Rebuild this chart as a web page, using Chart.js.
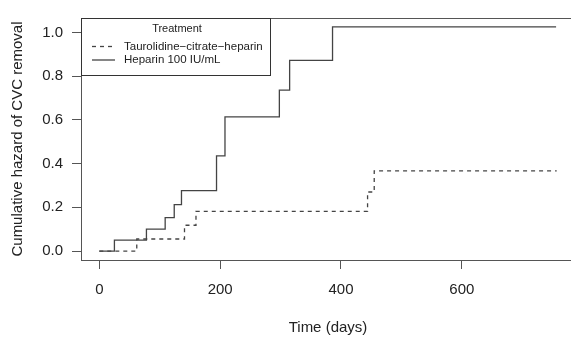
<!DOCTYPE html>
<html>
<head>
<meta charset="utf-8">
<script src="https://cdn.jsdelivr.net/npm/chart.js@4.4.1/dist/chart.umd.min.js"></script>
<style>
  html, body { margin: 0; padding: 0; background: #fff; overflow: hidden; }
  canvas { display: block; }
</style>
</head>
<body>
<canvas id="hazardChart" width="580" height="339"></canvas>
<script>
// cumulative hazard step points
const heparinTimes = [0, 25, 78, 109, 124, 136, 194, 208, 298, 315, 386, 756];
const heparinHazard = [0, 0.05, 0.10, 0.153, 0.212, 0.276, 0.435, 0.614, 0.736, 0.872, 1.025, 1.025];
const taurolidineTimes = [0, 62, 141, 160, 444, 455, 757];
const taurolidineHazard = [0, 0.055, 0.118, 0.181, 0.27, 0.367, 0.367];

const xTicks = [0, 200, 400, 600];
const yTicks = [0, 0.2, 0.4, 0.6, 0.8, 1.0];
const seriesLabels = ['Taurolidine\u2212citrate\u2212heparin', 'Heparin 100 IU/mL'];

const toPoints = (xs, ys) => xs.map((x, i) => ({ x: x, y: ys[i] }));

const lineColor = '#444';
const axisColor = '#555';
const textColor = '#222';
const font = 'Liberation Sans, Arial, Helvetica, sans-serif';

// box around plot + R-style legend in the top-left corner
const boxAndLegend = {
    id: 'boxAndLegend',
    afterDraw(chart) {
        const c = chart.ctx;
        const a = chart.chartArea;
        c.save();
        c.strokeStyle = axisColor;
        c.lineWidth = 1;
        c.strokeRect(a.left + 0.5, a.top + 0.5, a.right - a.left, a.bottom - a.top);

        const lx = a.left, ly = a.top + 0.5, lw = 189, lh = 57;
        c.fillStyle = '#fff';
        c.fillRect(lx + 0.5, ly, lw, lh);
        c.strokeStyle = '#333';
        c.strokeRect(lx + 0.5, ly, lw, lh);

        c.fillStyle = textColor;
        c.font = '11px ' + font;
        c.textAlign = 'center';
        c.textBaseline = 'middle';
        c.fillText('Treatment', lx + 96, ly + 10);

        c.textAlign = 'left';
        c.font = '11.5px ' + font;
        chart.data.datasets.forEach((ds, i) => {
            const y = ly + 28 + i * 13.5;
            c.strokeStyle = lineColor;
            c.lineWidth = 1.3;
            c.setLineDash(ds.borderDash || []);
            c.beginPath();
            c.moveTo(lx + 11, y);
            c.lineTo(lx + 34, y);
            c.stroke();
            c.setLineDash([]);
            c.fillText(ds.label, lx + 43, y);
        });
        c.restore();
    }
};

const ctx = document.getElementById('hazardChart').getContext('2d');
const hazardChart = new Chart(ctx, {
    type: 'line',
    data: {
        datasets: [
            {
                label: seriesLabels[0],
                data: toPoints(taurolidineTimes, taurolidineHazard),
                borderColor: lineColor,
                borderWidth: 1.3,
                borderDash: [4, 4],
                stepped: 'before',
                pointRadius: 0,
                fill: false
            },
            {
                label: seriesLabels[1],
                data: toPoints(heparinTimes, heparinHazard),
                borderColor: lineColor,
                borderWidth: 1.3,
                stepped: 'before',
                pointRadius: 0,
                fill: false
            }
        ]
    },
    options: {
        responsive: false,
        animation: false,
        devicePixelRatio: 1,
        layout: { padding: { top: 9, right: 5, left: 0, bottom: 0 } },
        plugins: {
            legend: { display: false },
            tooltip: { enabled: false }
        },
        scales: {
            x: {
                type: 'linear',
                min: -30.3,
                max: 787.3,
                afterBuildTicks: s => { s.ticks = xTicks.map(v => ({ value: v })); },
                afterFit: s => { s.height = 79; },
                grid: { drawOnChartArea: false, drawTicks: true, tickLength: 9, color: axisColor },
                border: { color: axisColor },
                ticks: { color: textColor, font: { family: font, size: 15 }, padding: 12, maxRotation: 0 },
                title: { display: true, text: 'Time (days)', color: textColor, font: { family: font, size: 15 }, padding: { bottom: 2 } }
            },
            y: {
                type: 'linear',
                min: -0.041,
                max: 1.066,
                afterBuildTicks: s => { s.ticks = yTicks.map(v => ({ value: v })); },
                afterFit: s => { s.width = 81; },
                grid: { drawOnChartArea: false, drawTicks: true, tickLength: 9, color: axisColor },
                border: { color: axisColor },
                ticks: { color: textColor, font: { family: font, size: 15 }, padding: 9, callback: v => v.toFixed(1) },
                title: { display: true, text: 'Cumulative hazard of CVC removal', color: textColor, font: { family: font, size: 15 }, padding: { top: 9 } }
            }
        }
    },
    plugins: [boxAndLegend]
});
</script>
</body>
</html>
